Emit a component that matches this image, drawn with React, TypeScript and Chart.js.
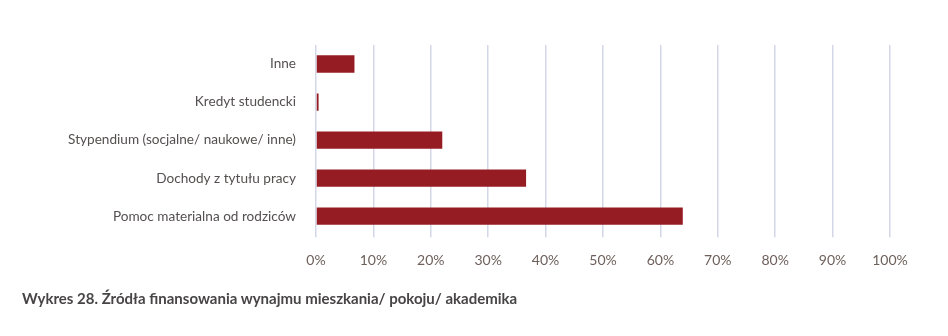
import React, { useEffect, useRef } from "react";
import { Chart, registerables } from "chart.js";

Chart.register(...registerables);

const categories = [
  "Inne",
  "Kredyt studencki",
  "Stypendium (socjalne/ naukowe/ inne)",
  "Dochody z tytułu pracy",
  "Pomoc materialna od rodziców",
];
const values = [6.7, 0.45, 22.0, 36.6, 63.9];
const caption = "Wykres 28. Źródła finansowania wynajmu mieszkania/ pokoju/ akademika";

export default function App() {
  const ref = useRef<HTMLCanvasElement | null>(null);
  useEffect(() => {
    if (!ref.current) return;
    const chart = new Chart(ref.current, {
      type: "bar",
      data: {
        labels: categories,
        datasets: [
          {
            data: values,
            backgroundColor: "#961c23",
            borderWidth: 0,
            barPercentage: 0.455,
            categoryPercentage: 1,
          },
        ],
      },
      options: {
        indexAxis: "y",
        animation: false,
        responsive: true,
        maintainAspectRatio: false,
        layout: { padding: { top: 45, right: 58, bottom: 8, left: 0 } },
        plugins: { legend: { display: false }, tooltip: { enabled: false } },
        scales: {
          x: {
            min: 0,
            max: 100,
            ticks: {
              stepSize: 10,
              callback: (v: any) => v + "%",
              color: "#6e605b",
              font: { family: "Lato", size: 14 },
              padding: 15,
              maxRotation: 0,
              autoSkip: false,
            },
            grid: { color: "#d3d7e7", lineWidth: 1.5, drawTicks: true, tickLength: 2 },
            border: { display: false },
          },
          y: {
            ticks: {
              color: "#555050",
              font: { family: "Lato", size: 13.6 },
              padding: 20,
            },
            grid: { display: false, drawTicks: false },
            border: { display: false },
            afterFit: (scale: any) => {
              scale.width = 316;
            },
          },
        },
      },
    });
    return () => chart.destroy();
  }, []);
  return (
    <div style={{ position: "absolute", left: 0, top: 0, width: 948, height: 336, background: "#fff" }}>
      <div style={{ position: "absolute", left: 0, top: 0, width: 948, height: 292 }}>
        <canvas ref={ref} />
      </div>
      <div
        style={{
          position: "absolute",
          left: 22,
          top: 289,
          fontFamily: "Lato",
          fontWeight: 700,
          fontSize: 15,
          color: "#474545",
          whiteSpace: "nowrap",
        }}
      >
        {caption}
      </div>
    </div>
  );
}
